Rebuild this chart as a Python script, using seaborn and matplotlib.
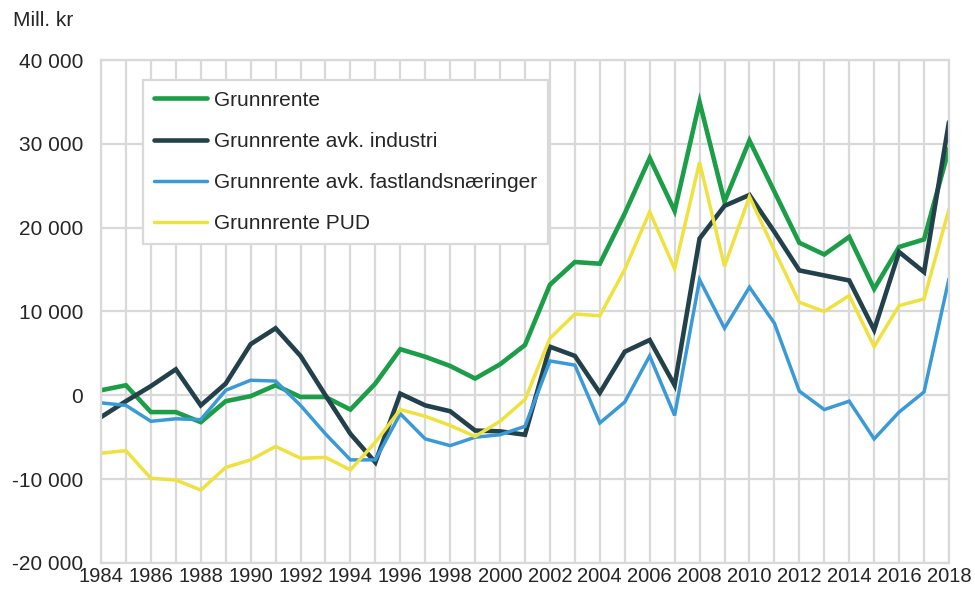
import pandas as pd
import seaborn as sns
from matplotlib import pyplot as plt
from matplotlib.ticker import FuncFormatter, MultipleLocator

years = list(range(1984, 2019))

grunnrente = [600, 1200, -2000, -2000, -3200, -700, -100, 1200, -200, -200, -1700, 1400,
              5500, 4600, 3500, 2000, 3700, 6000, 13200, 15900, 15700, 21700, 28300, 22000,
              35000, 23100, 30400, 24300, 18200, 16800, 18900, 12700, 17700, 18600, 29400]
industri = [-2600, -700, 1100, 3100, -1200, 1400, 6100, 8000, 4700, 0, -4600, -8000,
            200, -1200, -1900, -4200, -4300, -4700, 5800, 4700, 300, 5200, 6600, 1200,
            18700, 22600, 23900, 19500, 14900, 14300, 13700, 7800, 17100, 14700, 32600]
fastland = [-900, -1200, -3100, -2800, -2900, 600, 1800, 1700, -1200, -4600, -7700, -7700,
            -2200, -5200, -6000, -5000, -4700, -3700, 4100, 3600, -3300, -800, 4700, -2400,
            13800, 8000, 12900, 8600, 500, -1700, -700, -5200, -2000, 400, 13900]
pud = [-6900, -6600, -9900, -10100, -11300, -8600, -7700, -6100, -7500, -7400, -8900, -5600,
       -1700, -2500, -3600, -4900, -3100, -500, 6800, 9700, 9500, 15000, 21900, 15100,
       27800, 15400, 23700, 17300, 11100, 10000, 11900, 5800, 10700, 11500, 22200]

series_names = ['Grunnrente', 'Grunnrente avk. industri',
                'Grunnrente avk. fastlandsnæringer', 'Grunnrente PUD']
colors = ['#1c9e48', '#23414a', '#3a9ad8', '#efe23e']
widths = [3.3, 3.3, 2.5, 2.5]


def build_frame() -> pd.DataFrame:
    frames = []
    for name, values in zip(series_names, [grunnrente, industri, fastland, pud]):
        frames.append(pd.DataFrame({'year': years, 'value': values, 'serie': name}))
    return pd.concat(frames, ignore_index=True)


def thousands(x, pos):
    return f'{x:,.0f}'.replace(',', ' ')


if __name__ == '__main__':
    sns.set_style('white')
    plt.rcParams['font.family'] = ['Liberation Sans', 'DejaVu Sans']

    df = build_frame()
    fig = plt.figure(figsize=(9.75, 5.9), dpi=100)
    ax = fig.add_axes([0.1036, 0.0458, 0.8697, 0.8525])

    for name, color, lw in zip(series_names, colors, widths):
        sns.lineplot(data=df[df['serie'] == name], x='year', y='value', color=color,
                     linewidth=lw, label=name, ax=ax, solid_joinstyle='miter')

    ax.set_xlim(1984, 2018)
    ax.set_ylim(-20000, 40000)
    ax.yaxis.set_major_locator(MultipleLocator(10000))
    ax.yaxis.set_major_formatter(FuncFormatter(thousands))
    ax.set_xticks(years, minor=True)
    ax.set_xticks(years[::2])
    ax.grid(True, which='both', color='#d9d9d9', linewidth=1.6)
    ax.set_axisbelow(True)
    ax.tick_params(which='both', length=0)
    for spine in ax.spines.values():
        spine.set_color('#d9d9d9')
        spine.set_linewidth(1.6)
    ax.set_xlabel('')
    ax.set_ylabel('')
    for label in ax.get_yticklabels():
        label.set_fontsize(15)
    ax.tick_params(axis='y', pad=13)
    for label in ax.get_xticklabels():
        label.set_fontsize(14.5)
    ax.tick_params(axis='x', pad=3)

    leg = ax.legend(loc='upper left', bbox_to_anchor=(0.05, 0.96), fontsize=15,
                    frameon=True, fancybox=False, handlelength=2.55, handletextpad=0.35,
                    labelspacing=1.07, borderpad=0.5, borderaxespad=0)
    leg.get_frame().set_edgecolor('#d9d9d9')
    leg.get_frame().set_linewidth(1.6)
    leg.get_frame().set_alpha(1)

    fig.text(0.013, 0.965, 'Mill. kr', fontsize=15, va='center', ha='left')

    plt.savefig('out.png', dpi=100)
